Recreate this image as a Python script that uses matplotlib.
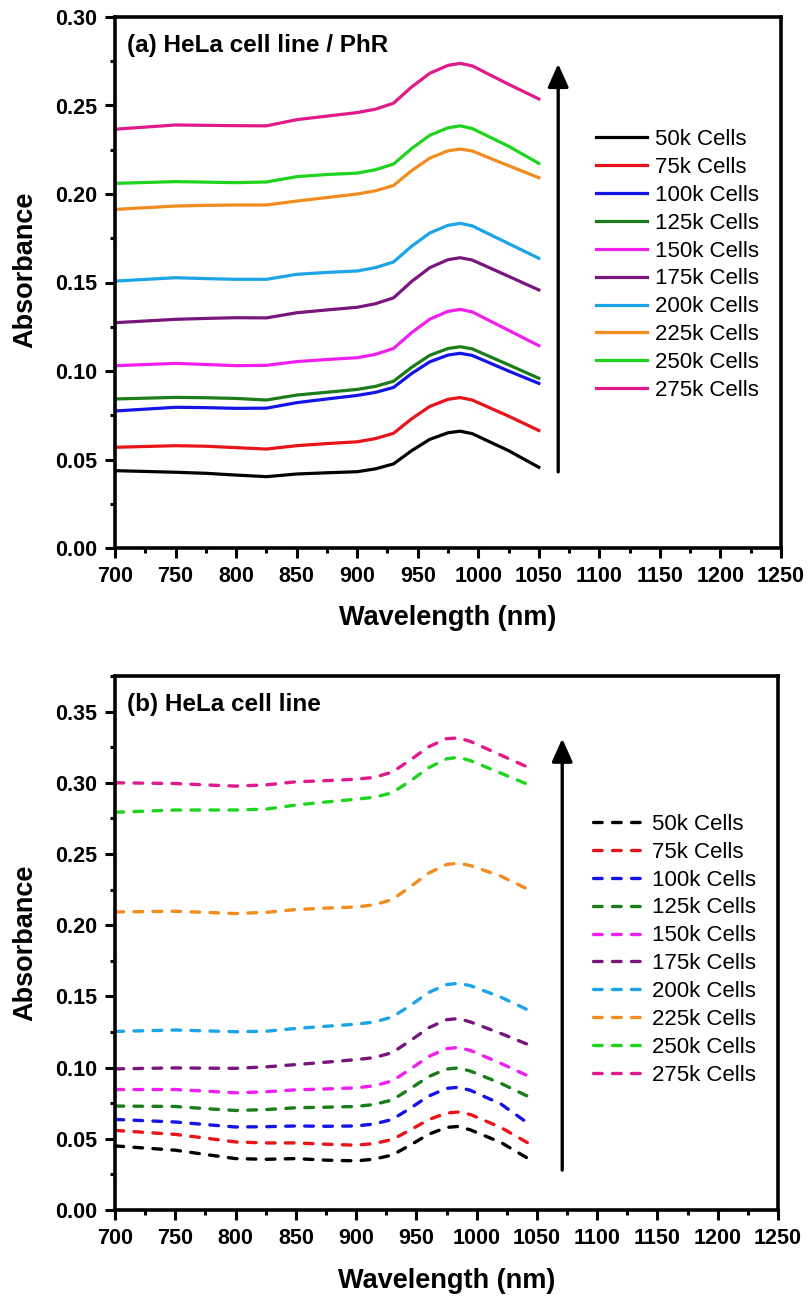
import matplotlib
matplotlib.use("Agg")
import matplotlib.pyplot as plt
from matplotlib.ticker import MultipleLocator, FormatStrFormatter

plt.rcParams['font.family'] = ['Liberation Sans', 'DejaVu Sans']

labels = ['50k Cells', '75k Cells', '100k Cells', '125k Cells', '150k Cells',
          '175k Cells', '200k Cells', '225k Cells', '250k Cells', '275k Cells']
colors = ['#000000', '#e8141a', '#1414e6', '#1a7d1a', '#f01ef0',
          '#78167e', '#1ca4e8', '#f28c1e', '#1ed41e', '#e0198c']

# Panel (a): HeLa cell line / PhR (solid)
wl_a = [700, 750, 775, 800, 825, 850, 875, 900, 915, 930, 945, 960, 975, 985, 995, 1025, 1050]
abs_a_50k = [.0437, .0428, .0422, .0412, .0403, .0418, .0425, .0431, .0447, .0475, .0550, .0614, .0651, .0660, .0646, .0550, .0456]
abs_a_75k = [.0569, .0578, .0575, .0567, .0559, .0578, .0590, .0600, .0618, .0648, .0730, .0800, .0840, .0850, .0836, .0745, .0664]
abs_a_100k = [.0774, .0795, .0793, .0789, .0790, .0821, .0842, .0862, .0879, .0907, .0986, .1052, .1090, .1100, .1088, .1000, .0930]
abs_a_125k = [.0842, .0851, .0849, .0845, .0836, .0864, .0880, .0896, .0913, .0942, .1021, .1089, .1127, .1137, .1125, .1035, .0959]
abs_a_150k = [.1030, .1043, .1037, .1030, .1032, .1053, .1065, .1075, .1094, .1127, .1217, .1293, .1337, .1348, .1334, .1230, .1143]
abs_a_175k = [.1273, .1292, .1297, .1301, .1300, .1329, .1345, .1360, .1380, .1413, .1506, .1584, .1629, .1640, .1627, .1535, .1458]
abs_a_200k = [.1508, .1527, .1522, .1518, .1518, .1546, .1557, .1565, .1584, .1616, .1705, .1780, .1823, .1834, .1820, .1720, .1637]
abs_a_225k = [.1913, .1932, .1936, .1938, .1938, .1960, .1980, .2000, .2018, .2048, .2132, .2203, .2244, .2254, .2243, .2160, .2092]
abs_a_250k = [.2060, .2070, .2067, .2064, .2068, .2098, .2110, .2118, .2137, .2169, .2257, .2332, .2374, .2385, .2370, .2270, .2173]
abs_a_275k = [.2366, .2390, .2388, .2386, .2385, .2420, .2440, .2460, .2479, .2513, .2605, .2682, .2727, .2738, .2724, .2620, .2537]

# Panel (b): HeLa cell line (dashed)
wl_b = [700, 750, 775, 800, 825, 850, 875, 900, 915, 930, 945, 960, 975, 985, 995, 1020, 1045]
abs_b_50k = [.0450, .0420, .0390, .0361, .0356, .0361, .0350, .0345, .0357, .0386, .0456, .0531, .0580, .0587, .0562, .0475, .0350]
abs_b_75k = [.0559, .0531, .0505, .0478, .0471, .0471, .0462, .0455, .0467, .0495, .0562, .0634, .0681, .0688, .0670, .0580, .0459]
abs_b_100k = [.0636, .0618, .0600, .0583, .0585, .0590, .0588, .0590, .0604, .0636, .0715, .0799, .0854, .0862, .0840, .0745, .0595]
abs_b_125k = [.0730, .0727, .0712, .0699, .0705, .0718, .0722, .0727, .0741, .0773, .0852, .0936, .0990, .0998, .0975, .0890, .0788]
abs_b_150k = [.0846, .0846, .0835, .0823, .0830, .0844, .0850, .0858, .0872, .0906, .0989, .1077, .1133, .1142, .1120, .1030, .0932]
abs_b_175k = [.0991, .0998, .0996, .0995, .1005, .1021, .1038, .1056, .1070, .1105, .1189, .1279, .1336, .1345, .1320, .1240, .1154]
abs_b_200k = [.1254, .1264, .1258, .1252, .1255, .1275, .1290, .1305, .1320, .1355, .1436, .1527, .1583, .1592, .1575, .1495, .1395]
abs_b_225k = [.2093, .2098, .2090, .2082, .2090, .2110, .2120, .2128, .2143, .2180, .2270, .2365, .2426, .2436, .2418, .2345, .2243]
abs_b_250k = [.2793, .2809, .2809, .2809, .2815, .2844, .2865, .2885, .2898, .2930, .3013, .3105, .3168, .3180, .3155, .3068, .2980]
abs_b_275k = [.3000, .2995, .2985, .2977, .2985, .3007, .3015, .3025, .3038, .3075, .3160, .3252, .3310, .3315, .3290, .3195, .3100]

series_a = [abs_a_50k, abs_a_75k, abs_a_100k, abs_a_125k, abs_a_150k,
            abs_a_175k, abs_a_200k, abs_a_225k, abs_a_250k, abs_a_275k]
series_b = [abs_b_50k, abs_b_75k, abs_b_100k, abs_b_125k, abs_b_150k,
            abs_b_175k, abs_b_200k, abs_b_225k, abs_b_250k, abs_b_275k]

fig = plt.figure(figsize=(8.08, 12.97), dpi=100)
ax1 = fig.add_axes([115/808, 1-548/1297, 666/808, 531/1297])
ax2 = fig.add_axes([115/808, 1-1210/1297, 663/808, 534/1297])


def style_axes(ax, ymax, ymajor, ylab_y):
    ax.set_xlim(700, 1250)
    ax.set_ylim(0, ymax)
    ax.xaxis.set_major_locator(MultipleLocator(50))
    ax.xaxis.set_minor_locator(MultipleLocator(25))
    ax.yaxis.set_major_locator(MultipleLocator(ymajor))
    ax.yaxis.set_minor_locator(MultipleLocator(ymajor/2))
    ax.yaxis.set_major_formatter(FormatStrFormatter('%.2f'))
    for s in ax.spines.values():
        s.set_linewidth(2.6)
    ax.tick_params(which='major', direction='out', length=7.5, width=2.2, pad=5.5,
                   labelsize=15.5)
    ax.tick_params(which='minor', direction='out', length=3.8, width=2.2)
    ax.set_xlabel('Wavelength (nm)', fontsize=19.5, fontweight='bold')
    ax.set_ylabel('Absorbance', fontsize=19.5, fontweight='bold')
    ax.xaxis.set_label_coords(0.5, -0.108)
    ax.yaxis.set_label_coords(-0.115, ylab_y)


style_axes(ax1, 0.30, 0.05, 0.523)
style_axes(ax2, 0.375, 0.05, 0.5)

for vals, c, lab in zip(series_a, colors, labels):
    ax1.plot(wl_a, vals, color=c, lw=2.3, label=lab)
for vals, c, lab in zip(series_b, colors, labels):
    ax2.plot(wl_b, vals, color=c, lw=2.4, label=lab, linestyle=(0, (2.6, 3.1)),
             dash_capstyle='round')

for ax in (ax1, ax2):
    fig.canvas.draw()
    for lab in ax.get_xticklabels() + ax.get_yticklabels():
        lab.set_fontweight('bold')

ax1.text(0.018, 0.947, '(a) HeLa cell line / PhR', transform=ax1.transAxes,
         fontsize=17.5, fontweight='bold', va='center', ha='left')
ax2.text(0.018, 0.9457, '(b) HeLa cell line', transform=ax2.transAxes,
         fontsize=17.5, fontweight='bold', va='center', ha='left')

arrow_kw = dict(arrowstyle='-|>,head_length=1.0,head_width=0.45', mutation_scale=14,
                lw=2.4, color='black', shrinkA=0, shrinkB=0)
ax1.annotate('', xy=(1066, 0.2735), xytext=(1066, 0.043), arrowprops=arrow_kw)
ax2.annotate('', xy=(1071, 0.331), xytext=(1071, 0.028), arrowprops=arrow_kw)

leg_kw = dict(frameon=False, fontsize=16, handlelength=2.3, handletextpad=0.35,
              labelspacing=0.31, borderpad=0, borderaxespad=0, loc='upper left')
ax1.legend(bbox_to_anchor=(0.722, 0.789), **leg_kw)
ax2.legend(bbox_to_anchor=(0.7205, 0.742), **leg_kw)

fig.savefig('out.png', dpi=100)
